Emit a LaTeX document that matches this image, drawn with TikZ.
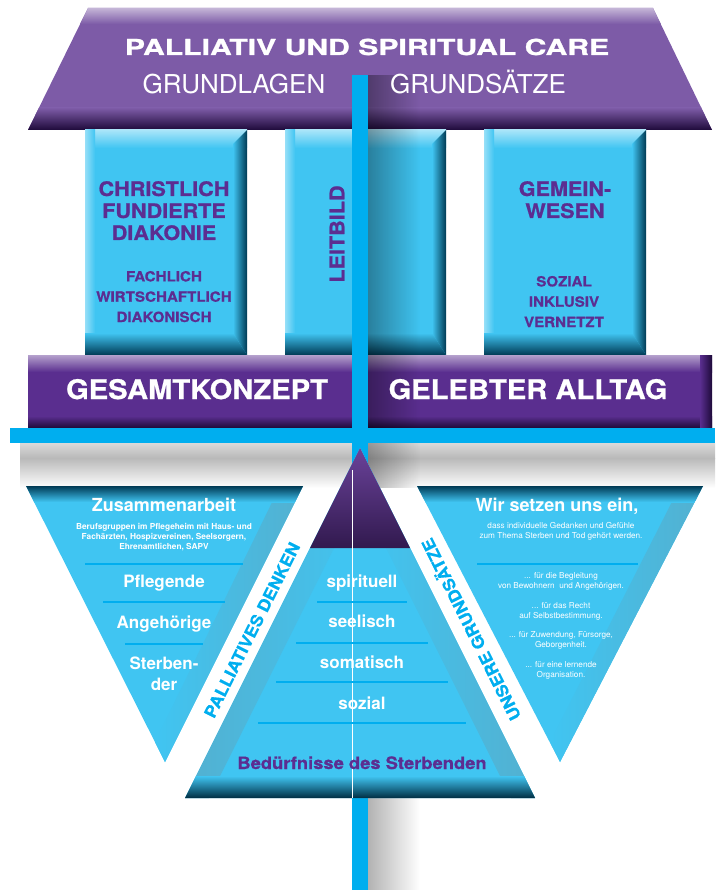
\documentclass[tikz,border=0pt]{standalone}
\usepackage{fontspec}
\usetikzlibrary{fadings}
\setmainfont{TeX Gyre Heros}
\newfontfamily\widefont[FakeStretch=1.37, BoldFeatures={FakeBold=1.2}]{TeX Gyre Heros}
\newfontfamily\heavyfont[FakeStretch=1.08, BoldFeatures={FakeBold=0.8}]{TeX Gyre Heros}
\definecolor{skyblue}{HTML}{40C5F2}
\definecolor{barblue}{HTML}{00AEEF}
\definecolor{roofpurple}{HTML}{7D5BA7}
\definecolor{basepurple}{HTML}{5A2E8F}
\definecolor{inkpurple}{HTML}{5C2D91}
\definecolor{deepteal}{HTML}{003A54}
\definecolor{deeppurple}{HTML}{1E0A3A}
\tikzfading[name=fade right, left color=transparent!0, right color=transparent!100]
\tikzset{
colhead/.style={text=inkpurple, font=\heavyfont\bfseries\fontsize{20}{22}\selectfont, align=center, anchor=base}, % big pillar words, anchored at the last line
colsub/.style={text=inkpurple, font=\heavyfont\bfseries\fontsize{14}{20.3}\selectfont, align=center, anchor=base}, % small pillar words
subtitle/.style={text=white, font=\fontsize{26}{26}\selectfont, anchor=base},
basetext/.style={text=white, font=\heavyfont\bfseries\fontsize{27}{27}\selectfont, anchor=base},
tritext/.style={text=white, font=\bfseries\fontsize{17}{21}\selectfont, align=center, anchor=base}, % words in the triangles
smalltext/.style={text=white, font=\bfseries\fontsize{8.3}{10}\selectfont, align=center, anchor=base},
notetext/.style={text=white, font=\fontsize{8.2}{10}\selectfont, align=center, anchor=base},
stripetext/.style={text=barblue, font=\heavyfont\bfseries\fontsize{16.5}{16.5}\selectfont}, % words on the white stripes
sepline/.style={barblue, line width=2pt},
edgeshade/.style={left color=skyblue, right color=skyblue!70!gray},
}

\begin{document}
\begin{tikzpicture}[x=1pt, y=-1pt]
\useasboundingbox (0,0) rectangle (715,890);

% roof
\fill[roofpurple] (88,8) -- (653,8) -- (712,130) -- (28,130) -- cycle;
\begin{scope}
\clip (88,8) -- (653,8) -- (712,130) -- (28,130) -- cycle;
\shade[top color=roofpurple!45, bottom color=roofpurple] (0,8) rectangle (715,24);
\shade[top color=roofpurple, bottom color=deeppurple] (0,108) rectangle (715,130);
\end{scope}

% pillars
\foreach \xl/\xr in {85/247, 285/446, 484/646} {
  \fill[skyblue] (\xl,130) rectangle (\xr,355);
  \shade[top color=white!55!skyblue, bottom color=skyblue] (\xl,130) rectangle (\xr,148);
  \shade[left color=white!45!skyblue, right color=skyblue] (\xl,130) rectangle (\xl+10,355);
  \shade[left color=skyblue, right color=deepteal] (\xr-14,144) -- (\xr,130) -- (\xr,355) -- (\xr-14,333) -- cycle;
  \shade[top color=skyblue, bottom color=deepteal] (\xl,333) -- (\xr-14,333) -- (\xr,355) -- (\xl,355) -- cycle;
}

% base bar
\fill[basepurple] (28,355) rectangle (712,428);
\shade[top color=basepurple!45, bottom color=basepurple] (28,355) rectangle (712,372);
\shade[top color=basepurple, bottom color=deeppurple] (28,416) rectangle (712,428);
\shade[left color=basepurple, right color=deeppurple] (700,355) rectangle (712,428);

% blue bars and shadows
\fill[barblue] (10,428) rectangle (715,443);
\shade[top color=gray!30, bottom color=gray!55] (20,443) rectangle (715,458);
\shade[top color=gray!55, bottom color=white] (20,458) rectangle (715,488);
\fill[black, opacity=0.35, path fading=fade right] (368,75) rectangle (420,428);
\fill[black, opacity=0.3, path fading=fade right] (368,443) rectangle (420,488);
\fill[barblue] (352,75) rectangle (368,890);
\shade[left color=gray!60, right color=white] (368,798) rectangle (420,890);

% left triangle
\fill[skyblue] (26,486) -- (303,486) -- (165,762) -- cycle;
\begin{scope}
\clip (26,486) -- (303,486) -- (165,762) -- cycle;
\shade[edgeshade] (280,486) -- (303,486) -- (165,762) -- (155,742) -- cycle;
\shade[top color=deepteal, bottom color=skyblue] (0,486) rectangle (715,502);
\end{scope}

% right triangle
\fill[skyblue] (417,486) -- (703,486) -- (560,762) -- cycle;
\begin{scope}
\clip (417,486) -- (703,486) -- (560,762) -- cycle;
\shade[edgeshade] (680,486) -- (703,486) -- (560,762) -- (550,742) -- cycle;
\shade[top color=deepteal, bottom color=skyblue] (0,486) rectangle (715,502);
\end{scope}

% middle triangle
\fill[skyblue] (360,448) -- (535,798) -- (185,798) -- cycle;
\begin{scope}
\clip (360,448) -- (535,798) -- (185,798) -- cycle;
\shade[right color=skyblue, left color=skyblue!70!gray] (185,798) -- (360,448) -- (372,472) -- (209,798) -- cycle;
\shade[edgeshade] (511,798) -- (360,496) -- (360,448) -- (535,798) -- cycle;
\shade[top color=skyblue, bottom color=deepteal!80!black] (0,776) rectangle (715,798);
\end{scope}
\shade[top color=basepurple!90!white, bottom color=basepurple!55!black] (360,448) -- (410,548) -- (310,548) -- cycle;
\draw[white, line width=0.8pt] (352,470) -- (352,798);

% separator lines
\draw[sepline] (85,564) -- (243,564);
\draw[sepline] (103,602) -- (225,602);
\draw[sepline] (125,644) -- (203,644);
\draw[sepline] (477,564) -- (638,564);
\draw[sepline] (317,602) -- (407,602);
\draw[sepline] (296,643) -- (428,643);
\draw[sepline] (276,682) -- (448,682);
\draw[sepline] (258,723) -- (466,723);

% roof and pillar words
\node[text=white, font=\widefont\bfseries\fontsize{22}{22}\selectfont, anchor=base] (title) at (367,55) {PALLIATIV UND SPIRITUAL CARE};
\node[subtitle] (grundlagen) at (234,94) {GRUNDLAGEN};
\node[subtitle] (grundsaetze) at (478,94) {GRUNDSÄTZE};
\node[colhead] (diakonie) at (164,240) {CHRISTLICH\\FUNDIERTE\\DIAKONIE};
\node[colsub] (fachlich) at (164,322) {FACHLICH\\WIRTSCHAFTLICH\\DIAKONISCH};
\node[colhead, rotate=90, anchor=center] (leitbild) at (337,234) {LEITBILD};
\node[colhead] (gemeinwesen) at (565,218) {GEMEIN-\\WESEN};
\node[colsub] (sozial) at (564,327) {SOZIAL\\INKLUSIV\\VERNETZT};
\node[basetext] (gesamtkonzept) at (197,399) {GESAMTKONZEPT};
\node[basetext] (alltag) at (528,399) {GELEBTER ALLTAG};

% triangle words
\node[tritext, font=\bfseries\fontsize{18}{18}\selectfont] (zusammenarbeit) at (164,511) {Zusammenarbeit};
\node[smalltext] (berufsgruppen) at (164,549) {Berufsgruppen im Pflegeheim mit Haus- und\\Fachärzten, Hospizvereinen, Seelsorgern,\\Ehrenamtlichen, SAPV};
\node[tritext] (pflegende) at (164,587) {Pflegende};
\node[tritext] (angehoerige) at (164,628) {Angehörige};
\node[tritext] (sterbender) at (164,690) {Sterben-\\der};
\node[tritext, font=\bfseries\fontsize{18}{18}\selectfont] (einsatz) at (557,511) {Wir setzen uns ein,};
\node[notetext] (gedanken) at (561,538) {dass individuelle Gedanken und Gefühle\\zum Thema Sterben und Tod gehört werden.};
\node[notetext] (begleitung) at (561,588) {... für die Begleitung\\von Bewohnern\ \ und Angehörigen.};
\node[notetext] (recht) at (561,618) {... für das Recht\\auf Selbstbestimmung.};
\node[notetext] (zuwendung) at (561,647) {... für Zuwendung, Fürsorge,\\Geborgenheit.};
\node[notetext] (organisation) at (561,677) {... für eine lernende\\Organisation.};
\node[tritext] (spirituell) at (362,587) {spirituell};
\node[tritext] (seelisch) at (362,627) {seelisch};
\node[tritext] (somatisch) at (362,668) {somatisch};
\node[tritext] (sozialw) at (362,709) {sozial};
\node[tritext, text=inkpurple, font=\heavyfont\bfseries\fontsize{17}{17}\selectfont] (beduerfnisse) at (362,769) {Bedürfnisse des Sterbenden};
\node[stripetext, rotate=63.43] (denken) at (252,630) {PALLIATIVES DENKEN};
\node[stripetext, rotate=116.57] (unsere) at (470,630) {UNSERE GRUNDSÄTZE};

\end{tikzpicture}
\end{document}
